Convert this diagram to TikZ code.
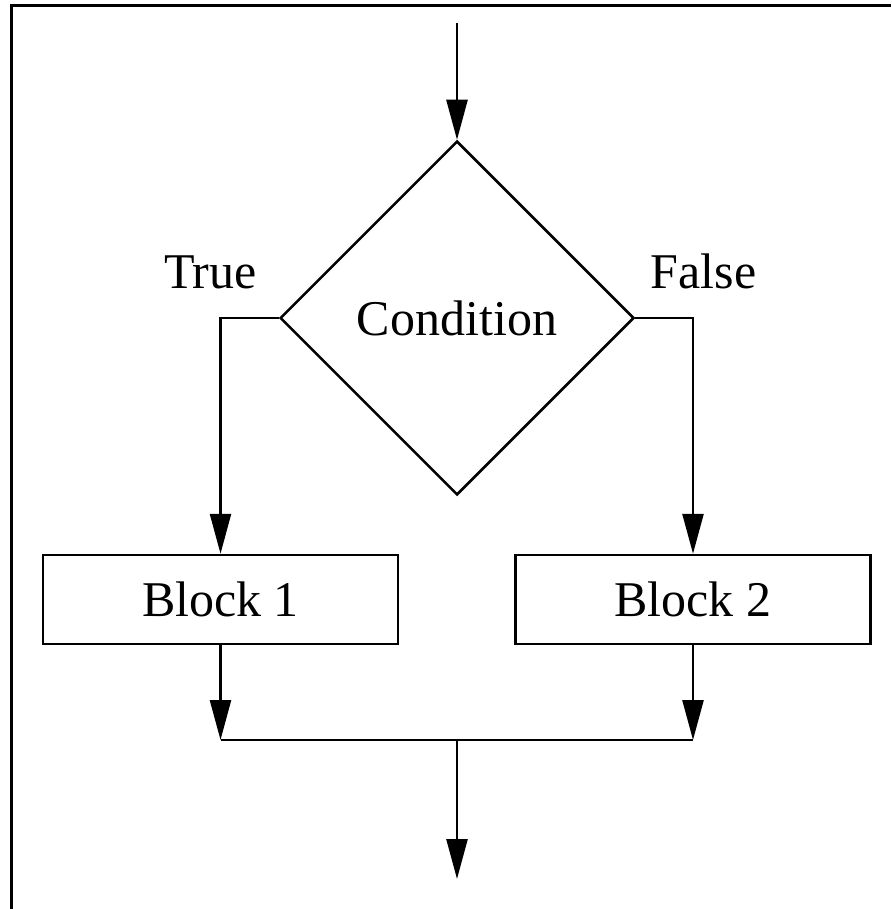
\documentclass[tikz,border=0pt]{standalone}
\usepackage{fontspec}
\setmainfont{Liberation Serif}
\usetikzlibrary{shapes.geometric,arrows.meta}

\tikzset{
  flowline/.style={line width=2.5pt, line join=miter},
  arr/.style={flowline, -{Triangle[length=40pt, width=21pt]}},
  blockbox/.style={draw, line width=2.5pt, minimum width=355pt, minimum height=89pt,
    inner sep=0pt, font=\fontsize{50}{60}\selectfont},
  decision/.style={draw, diamond, line width=2.5pt, minimum width=354pt,
    minimum height=354pt, inner sep=0pt, font=\fontsize{50}{60}\selectfont},
  branchlabel/.style={anchor=base, inner sep=0pt, font=\fontsize{50}{60}\selectfont},
}

\begin{document}
\begin{tikzpicture}[x=1pt, y=-1pt]
  \useasboundingbox (0,0) rectangle (891,909);

  % frame along the top and left edges
  \draw[line width=3pt] (11.5,909) -- (11.5,5.5) -- (891,5.5);

  % nodes
  \node[decision] (cond) at (457,318) {Condition};
  \node[blockbox] (b1) at (220.5,599.5) {Block 1};
  \node[blockbox] (b2) at (693,599.5) {Block 2};
  \node[branchlabel] (ltrue) at (210.5,288) {True};
  \node[branchlabel] (lfalse) at (703.5,288) {False};

  % free ends and junctions
  \coordinate (start) at (457,23);
  \coordinate (j1) at (220.5,740);
  \coordinate (j2) at (693,740);
  \coordinate (jm) at (457,740);
  \coordinate (finish) at (457,879);

  % connectors
  \draw[arr] (start) -- (cond.north);
  \draw[arr] (cond.west) -| (b1.north);
  \draw[arr] (cond.east) -| (b2.north);
  \draw[arr] (b1.south) -- (j1);
  \draw[arr] (b2.south) -- (j2);
  \draw[flowline] (j1) -- (j2);
  \draw[arr] (jm) -- (finish);
\end{tikzpicture}
\end{document}
